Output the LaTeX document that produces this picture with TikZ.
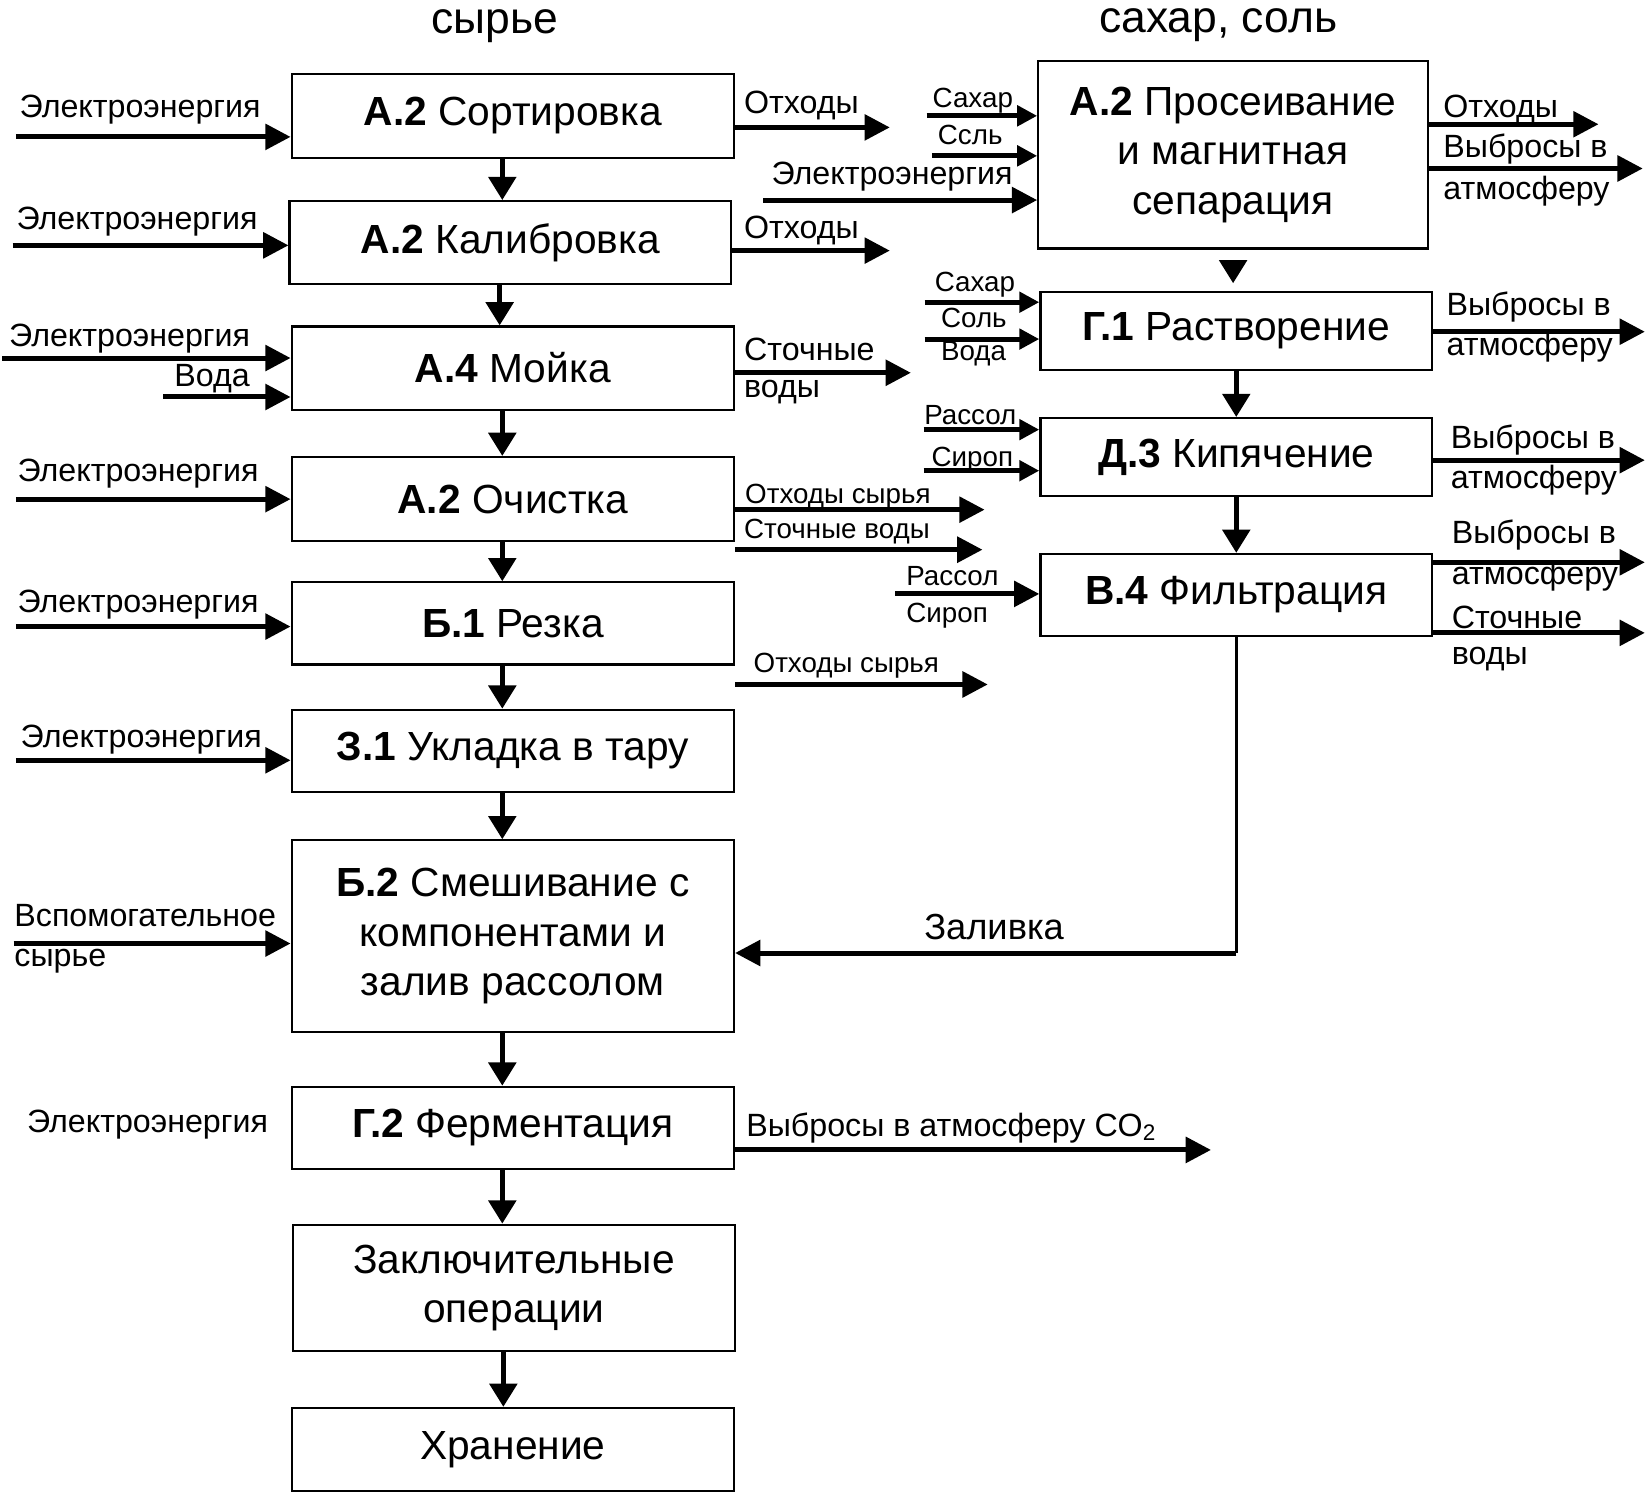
\documentclass[tikz,border=0pt]{standalone}
\usepackage{fontspec}
\setmainfont{Liberation Sans}
\usetikzlibrary{arrows.meta}

\tikzset{
  blk/.style={draw, line width=0.6pt, inner sep=0pt, align=center,
    minimum width=4.20cm, minimum height=0.80cm, font=\fontsize{11}{13.4}\selectfont},
  flow/.style={line width=1.35pt, -{Triangle[length=2.4mm,width=2.4mm]}},
  flowsm/.style={line width=1.35pt, -{Triangle[length=1.9mm,width=1.9mm]}},
  down/.style={line width=1.2pt, -{Triangle[length=2.2mm,width=2.6mm]}},
  lbl/.style={inner sep=0pt, anchor=west, font=\fontsize{8.7}{10.4}\selectfont},
  sml/.style={inner sep=0pt, anchor=west, font=\fontsize{7.5}{9}\selectfont},
  ttl/.style={inner sep=0pt, anchor=north, font=\fontsize{12}{14}\selectfont},
}

\begin{document}
\begin{tikzpicture}
\useasboundingbox (0,0) rectangle (15.65,-14.18);

\node[ttl] (raw) at (4.70,-0.08) {сырье};
\node[ttl] (sugsalt) at (11.57,-0.07) {сахар, соль};

% left column
\node[blk] (sort) at (4.87,-1.10) {\textbf{А.2} Сортировка};
\node[blk, minimum width=4.19cm, minimum height=0.79cm] (calib) at (4.845,-2.305) {\textbf{А.2} Калибровка};
\node[blk, minimum height=0.79cm] (wash) at (4.87,-3.495) {\textbf{А.4} Мойка};
\node[blk] (clean) at (4.87,-4.74) {\textbf{А.2} Очистка};
\node[blk, minimum height=0.78cm] (cut) at (4.87,-5.92) {\textbf{Б.1} Резка};
\node[blk, minimum height=0.78cm] (pack) at (4.87,-7.13) {\textbf{З.1} Укладка в тару};
\node[blk, minimum height=1.82cm] (mix) at (4.87,-8.89) {\textbf{Б.2} Смешивание с\\компонентами и\\залив рассолом};
\node[blk, minimum height=0.78cm] (ferm) at (4.87,-10.71) {\textbf{Г.2} Ферментация};
\node[blk, minimum height=1.20cm] (final) at (4.88,-12.23) {Заключительные\\операции};
\node[blk, minimum height=0.79cm] (store) at (4.87,-13.765) {Хранение};

\foreach \a/\b in {sort/calib,calib/wash,wash/clean,clean/cut,cut/pack,pack/mix,mix/ferm,ferm/final,final/store}
  \draw[down] ([xshift=-1mm]\a.south) -- ([xshift=-1mm]\a.south |- \b.north);

% right column
\node[blk, minimum width=3.70cm, minimum height=1.78cm] (siev) at (11.71,-1.47) {\textbf{А.2} Просеивание\\и магнитная\\сепарация};
\node[blk, minimum width=3.72cm, minimum height=0.74cm] (diss) at (11.74,-3.14) {\textbf{Г.1} Растворение};
\node[blk, minimum width=3.72cm, minimum height=0.74cm] (boil) at (11.74,-4.34) {\textbf{Д.3} Кипячение};
\node[blk, minimum width=3.72cm, minimum height=0.78cm] (filt) at (11.74,-5.65) {\textbf{В.4} Фильтрация};

\draw[down, shorten <=1mm, shorten >=0.7mm] (siev.south) -- (siev.south |- diss.north);
\draw[down] (diss.south) -- (diss.south |- boil.north);
\draw[down] (boil.south) -- (boil.south |- filt.north);

% brine back to mixing
\coordinate (pour) at (9.44,-9.05);
\draw[line width=0.8pt] (filt.south) -- (filt.south |- pour);
\draw[flow] (filt.south |- pour) -- (pour -| mix.east);
\node[lbl, anchor=center, font=\fontsize{9.8}{12}\selectfont] (pourlbl) at (9.44,-8.80) {Заливка};

% power inputs, left
\foreach \b/\ax/\ay/\lx/\ly in {sort/0.15/1.30/0.18/1.04, calib/0.12/2.33/0.15/2.10,
    clean/0.15/4.74/0.16/4.50, cut/0.15/5.95/0.16/5.74, pack/0.15/7.22/0.19/7.02} {
  \coordinate (in-\b) at (\ax,-\ay);
  \draw[flow] (in-\b) -- (in-\b -| \b.west);
  \node[lbl] (el-\b) at (\lx,-\ly) {Электроэнергия};
}
\coordinate (in-wash1) at (0.02,-3.40);
\coordinate (in-wash2) at (1.55,-3.77);
\draw[flow] (in-wash1) -- (in-wash1 -| wash.west);
\draw[flow] (in-wash2) -- (in-wash2 -| wash.west);
\node[lbl] (el-wash) at (0.08,-3.22) {Электроэнергия};
\node[lbl] (water-wash) at (1.65,-3.60) {Вода};

\coordinate (in-mix) at (0.13,-8.96);
\draw[flow] (in-mix) -- (in-mix -| mix.west);
\node[lbl] (aux1) at (0.13,-8.69) {Вспомогательное};
\node[lbl] (aux2) at (0.13,-9.13) {сырье};

\node[lbl] (el-ferm) at (0.25,-10.68) {Электроэнергия};

% outputs, left
\coordinate (out-sort) at (8.45,-1.21);
\coordinate (out-calib) at (8.45,-2.38);
\coordinate (out-wash) at (8.65,-3.54);
\coordinate (out-clean1) at (9.35,-4.84);
\coordinate (out-clean2) at (9.33,-5.22);
\coordinate (out-cut) at (9.38,-6.50);
\coordinate (out-ferm) at (11.50,-10.92);
\draw[flow] (out-sort -| sort.east) -- (out-sort);
\draw[flow] (out-calib -| calib.east) -- (out-calib);
\draw[flow] (out-wash -| wash.east) -- (out-wash);
\draw[flow] (out-clean1 -| clean.east) -- (out-clean1);
\draw[flow] (out-clean2 -| clean.east) -- (out-clean2);
\draw[flow] (out-cut -| cut.east) -- (out-cut);
\draw[flow] (out-ferm -| ferm.east) -- (out-ferm);
\node[lbl] (w-sort) at (7.06,-1.00) {Отходы};
\node[lbl] (w-calib) at (7.06,-2.19) {Отходы};
\node[lbl] (ww-wash1) at (7.06,-3.32) {Сточные};
\node[lbl] (ww-wash2) at (7.06,-3.72) {воды};
\node[sml] (w-clean) at (7.07,-4.72) {Отходы сырья};
\node[sml] (ww-clean) at (7.06,-5.05) {Сточные воды};
\node[sml] (w-cut) at (7.15,-6.32) {Отходы сырья};
\node[lbl] (co2) at (7.08,-10.71) {Выбросы в атмосферу CO\textsubscript{2}};

% inputs, right
\coordinate (in-siev1) at (8.80,-1.10);
\coordinate (in-siev2) at (8.85,-1.48);
\coordinate (in-siev3) at (7.25,-1.90);
\coordinate (in-diss1) at (8.78,-2.87);
\coordinate (in-diss2) at (8.78,-3.22);
\coordinate (in-boil1) at (8.77,-4.08);
\coordinate (in-boil2) at (8.77,-4.47);
\coordinate (in-filt) at (8.50,-5.64);
\foreach \c/\b in {siev1/siev,siev2/siev,diss1/diss,diss2/diss,boil1/boil,boil2/boil}
  \draw[flowsm] (in-\c) -- (in-\c -| \b.west);
\draw[flow] (in-siev3) -- (in-siev3 -| siev.west);
\draw[flow] (in-filt) -- (in-filt -| filt.west);
\node[sml] (sug1) at (8.85,-0.96) {Сахар};
\node[sml] (salt1) at (8.90,-1.28) {Ссль};
\node[lbl] (el-siev) at (7.32,-1.68) {Электроэнергия};
\node[sml] (sug2) at (8.87,-2.70) {Сахар};
\node[sml] (salt2) at (8.93,-3.02) {Соль};
\node[sml] (water2) at (8.93,-3.36) {Вода};
\node[sml] (brine1) at (8.77,-3.94) {Рассол};
\node[sml] (syr1) at (8.84,-4.37) {Сироп};
\node[sml] (brine2) at (8.60,-5.47) {Рассол};
\node[sml] (syr2) at (8.60,-5.85) {Сироп};

% outputs, right
\coordinate (out-siev1) at (15.18,-1.18);
\coordinate (out-siev2) at (15.60,-1.60);
\coordinate (out-diss) at (15.62,-3.15);
\coordinate (out-boil) at (15.62,-4.37);
\coordinate (out-filt1) at (15.62,-5.34);
\coordinate (out-filt2) at (15.62,-6.01);
\draw[flow] (out-siev1 -| siev.east) -- (out-siev1);
\draw[flow] (out-siev2 -| siev.east) -- (out-siev2);
\draw[flow] (out-diss -| diss.east) -- (out-diss);
\draw[flow] (out-boil -| boil.east) -- (out-boil);
\draw[flow] (out-filt1 -| filt.east) -- (out-filt1);
\draw[flow] (out-filt2 -| filt.east) -- (out-filt2);
\node[lbl] (w-siev) at (13.70,-1.04) {Отходы};
\node[lbl] (em-siev1) at (13.70,-1.42) {Выбросы в};
\node[lbl] (em-siev2) at (13.70,-1.82) {атмосферу};
\node[lbl] (em-diss1) at (13.73,-2.92) {Выбросы в};
\node[lbl] (em-diss2) at (13.73,-3.30) {атмосферу};
\node[lbl] (em-boil1) at (13.77,-4.18) {Выбросы в};
\node[lbl] (em-boil2) at (13.77,-4.56) {атмосферу};
\node[lbl] (em-filt1) at (13.78,-5.08) {Выбросы в};
\node[lbl] (em-filt2) at (13.78,-5.47) {атмосферу};
\node[lbl] (ww-filt1) at (13.78,-5.86) {Сточные};
\node[lbl] (ww-filt2) at (13.78,-6.26) {воды};
\end{tikzpicture}
\end{document}
